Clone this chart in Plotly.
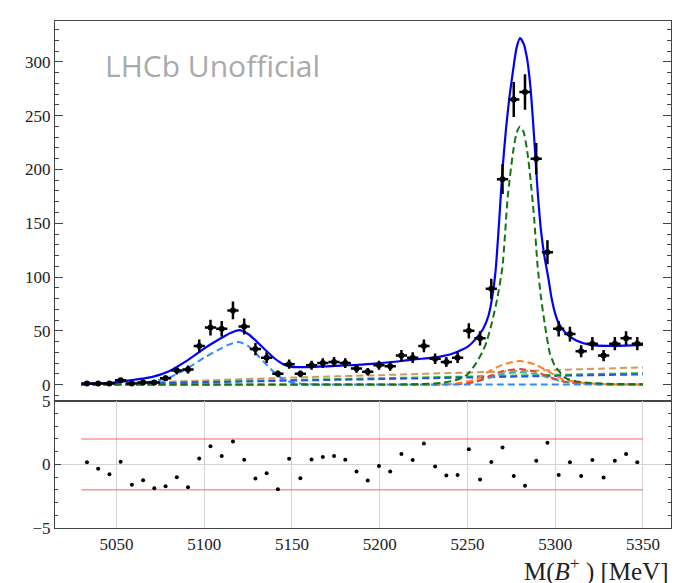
import numpy as np
import plotly.graph_objects as go

# ---------------- data ----------------
bin_edges = np.linspace(5030, 5350, 51)
counts = [1, 1, 1, 4, 1, 2, 2, 6, 13, 14,
          36, 53, 52, 69, 54, 33, 25, 10, 19, 10,
          18, 20, 21, 20, 15, 12, 18, 17, 27, 25,
          36, 24, 21, 25, 50, 43, 89, 191, 265, 272,
          210, 123, 52, 47, 31, 38, 27, 38, 43, 38]
pulls = [0.16, -0.34, -0.78, 0.21, -1.61, -1.25, -1.87, -1.71, -1.01, -1.79,
         0.47, 1.43, 0.65, 1.79, 0.36, -1.12, -0.70, -1.95, 0.44, -1.09,
         0.39, 0.57, 0.65, 0.36, -0.57, -1.27, -0.13, -0.57, 0.81, 0.34,
         1.64, -0.16, -0.88, -0.83, 1.19, -1.19, 0.18, 1.32, -0.91, -1.69,
         0.29, 1.69, -0.83, 0.16, -0.91, 0.34, -1.04, 0.29, 0.81, 0.16]

total_x = [5030, 5040, 5050, 5060, 5070, 5080, 5090, 5100, 5110, 5115, 5120, 5125, 5130,
           5135, 5140, 5145, 5150, 5160, 5170, 5180, 5190, 5200, 5210, 5220, 5230, 5240,
           5245, 5250, 5255, 5259, 5262, 5264, 5266, 5268, 5270, 5272, 5274, 5276, 5278,
           5280, 5282, 5284, 5286, 5288, 5290, 5292, 5294, 5296, 5298, 5300, 5302, 5306,
           5312, 5320, 5330, 5340, 5350]
total_y = [0.8, 1.1, 2.0, 4.5, 7.0, 12.5, 22, 33.5, 43.5, 48, 50.6, 47, 40,
           32, 24.5, 19, 16.5, 16.3, 17, 17.8, 18.6, 20, 21.5, 23.5, 25, 28,
           31, 35, 43, 52, 64, 80, 105, 150, 200, 238, 268, 292, 313,
           322, 317, 303, 275, 230, 180, 142, 118, 100, 80, 66, 57, 48,
           41, 37, 36, 36.2, 36.8]

sig_x = [5030, 5200, 5220, 5235, 5245, 5250, 5255, 5259, 5261, 5264, 5267, 5270, 5273,
         5276, 5278, 5280, 5282, 5284, 5286, 5288, 5290, 5292, 5294, 5297, 5300, 5306,
         5312, 5320, 5335, 5350]
sig_y = [0, 0.1, 0.4, 1.5, 5, 9.5, 20, 32, 40, 58, 80, 110, 175,
         216, 234, 240, 235, 218, 190, 155, 110, 80, 57, 29, 17, 6,
         3, 1.5, 0.6, 0.3]

prc_x = [5030, 5040, 5050, 5060, 5070, 5080, 5090, 5100, 5110, 5115, 5120, 5125, 5130,
         5135, 5140, 5145, 5150, 5155, 5160, 5170, 5200, 5350]
prc_y = [0.1, 0.2, 0.5, 1.2, 3, 6.5, 14.8, 25, 34, 37.8, 39.5, 36, 28,
         19.4, 11.2, 5, 2, 0.8, 0.3, 0.05, 0, 0]

bkg_x = [5030, 5050, 5100, 5150, 5200, 5250, 5300, 5350]
tan_y = [0.3, 1.0, 3.8, 6.5, 8.8, 11.2, 13.6, 16.0]
lime_y = [0.2, 0.7, 2.5, 4.3, 5.9, 7.5, 9.1, 10.7]
blue_y = [0.1, 0.5, 2.1, 3.7, 5.1, 6.6, 8.1, 9.5]

pk_x = [5030, 5230, 5245, 5255, 5262, 5270, 5280, 5289, 5297, 5305, 5316, 5330, 5350]
orange_y = [0, 0, 1.5, 5, 12, 18.4, 22, 18.4, 11.4, 4.5, 1.6, 0.3, 0]
red_y = [0, 0, 0.8, 3, 7.5, 12.5, 14.4, 12, 7, 3, 1, 0.2, 0]
teal_y = [0, 0, 0.6, 2.5, 6, 10, 11.5, 10, 6, 2.5, 0.8, 0.2, 0]

xticks = [5050, 5100, 5150, 5200, 5250, 5300, 5350]
yticks = [0, 50, 100, 150, 200, 250, 300]
rticks = [-5, 0, 5]

# ---------------- figure ----------------
centers = 0.5 * (bin_edges[:-1] + bin_edges[1:])
half_w = 0.5 * (bin_edges[1] - bin_edges[0])
errs = np.sqrt(counts)

fig = go.Figure()
DASH = "7px,4px"

def dashed(x, y, color):
    fig.add_trace(go.Scatter(x=x, y=y, mode="lines", xaxis="x", yaxis="y",
                             line=dict(color=color, width=2, dash=DASH, shape="spline", smoothing=0.6),
                             hoverinfo="skip", showlegend=False))

dashed(bkg_x, tan_y, "#cf9a62")
dashed(bkg_x, lime_y, "#2db82d")
dashed(bkg_x, blue_y, "#2355e0")
dashed(pk_x, teal_y, "#2fb5a8")
dashed(pk_x, red_y, "#f03c3c")
dashed(pk_x, orange_y, "#ff7f1e")
dashed(prc_x, prc_y, "#2a8cff")
dashed(sig_x, sig_y, "#127512")

fig.add_trace(go.Scatter(x=total_x, y=total_y, mode="lines", xaxis="x", yaxis="y",
                         line=dict(color="#0000ff", width=2.2, shape="spline", smoothing=0.6),
                         showlegend=False))

fig.add_trace(go.Scatter(x=centers, y=counts, mode="markers", xaxis="x", yaxis="y",
                         marker=dict(color="black", size=6),
                         error_y=dict(type="data", array=errs, color="black", thickness=2.5, width=0),
                         error_x=dict(type="constant", value=half_w, color="black", thickness=2.5, width=0),
                         showlegend=False))

# residual panel
for lvl in (2, -2):
    fig.add_trace(go.Scatter(x=[bin_edges[0], bin_edges[-1]], y=[lvl, lvl], mode="lines",
                             xaxis="x2", yaxis="y2",
                             line=dict(color="rgba(255,80,80,0.6)", width=1.5), showlegend=False))
fig.add_trace(go.Scatter(x=centers, y=pulls, mode="markers", xaxis="x2", yaxis="y2",
                         marker=dict(color="black", size=4), showlegend=False))

XR = [5015, 5366]
LC = "#444444"
TF = dict(family="Liberation Serif, Times New Roman, serif", size=17, color="#222222")
split = 0.251

fig.update_layout(
    width=684, height=583,
    margin=dict(l=55, r=13, t=14, b=55),
    paper_bgcolor="white", plot_bgcolor="white",
    showlegend=False,
    xaxis=dict(domain=[0, 1], anchor="y", range=XR, showticklabels=False, ticks="",
               showline=True, mirror=True, linecolor=LC, linewidth=1.2,
               showgrid=False, zeroline=False),
    yaxis=dict(domain=[split, 1], anchor="x", range=[-15, 338], tickvals=yticks,
               ticks="inside", ticklen=8, tickcolor=LC, tickwidth=1.2,
               minor=dict(dtick=10, tick0=0, ticks="inside", ticklen=4, tickcolor=LC, showgrid=False),
               showline=True, mirror="ticks", linecolor=LC, linewidth=1.2,
               showgrid=False, zeroline=False, tickfont=TF),
    xaxis2=dict(domain=[0, 1], anchor="y2", range=XR, tickvals=xticks, ticks="",
                showline=True, mirror=True, linecolor=LC, linewidth=1.2,
                showgrid=True, gridcolor="#d4d4d4", gridwidth=1, zeroline=False, tickfont=TF),
    xaxis3=dict(overlaying="x2", anchor="y2", side="top", range=XR, tick0=5020, dtick=10,
                ticks="inside", ticklen=4, tickcolor=LC, showticklabels=False,
                showgrid=False, showline=False, zeroline=False),
    yaxis2=dict(domain=[0, split], anchor="x2", range=[-5, 5], tickvals=rticks,
                ticks="inside", ticklen=6, tickcolor=LC,
                minor=dict(dtick=1, tick0=0, ticks="inside", ticklen=3, tickcolor=LC, showgrid=False),
                showline=True, mirror="ticks", linecolor=LC, linewidth=1.2,
                showgrid=True, gridcolor="#d4d4d4", zeroline=False, tickfont=TF),
    annotations=[
        dict(text="LHCb Unofficial", x=0.255, y=0.913, xref="paper", yref="paper",
             xanchor="center", yanchor="middle", showarrow=False,
             font=dict(family="Open Sans", size=30, color="#aaaaaa")),
        dict(text="M(<i>B</i><sup>+</sup> ) [MeV]", x=1.0, y=-0.081, xref="paper", yref="paper",
             xanchor="right", yanchor="middle", showarrow=False,
             font=dict(family="Liberation Serif, Times New Roman, serif", size=25, color="#222222")),
    ],
)

fig.write_html("out.html")
